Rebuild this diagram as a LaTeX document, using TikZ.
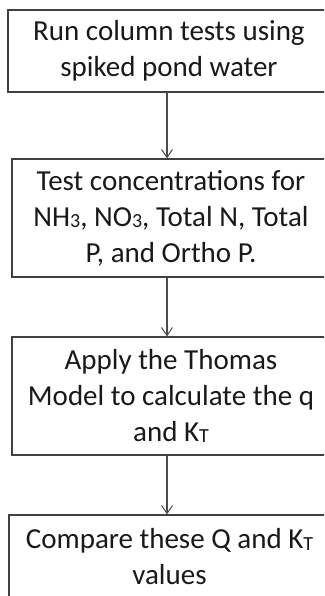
\documentclass[tikz,border=0pt]{standalone}
\usepackage{fontspec}
\setmainfont{Carlito}
\usetikzlibrary{arrows.meta,calc}

\newcommand{\lowsub}[1]{\raisebox{-1.5pt}{\fontsize{20}{20}\selectfont #1}}

\tikzset{
  stepbox/.style={draw=black!75,line width=1.3pt,rectangle,align=center,
    text=black!90,font=\fontsize{29}{36}\selectfont,inner sep=0pt},
  flow/.style={draw=black!70,line width=1.1pt,-{Straight Barb[length=8pt,width=11pt,line width=1pt]}}
}

\begin{document}
\begin{tikzpicture}[x=1pt,y=-1pt]
  \useasboundingbox (0,0) rectangle (324,596);
  \clip (0,0) rectangle (324,596);
  % the four steps
  \node[stepbox,minimum width=322pt,minimum height=82pt] (run) at (169,51)
    {Run column tests using\\spiked pond water};
  \node[stepbox,minimum width=318pt,minimum height=118pt] (conc) at (171,218)
    {Test concentrations for\\NH\lowsub{3}, NO\lowsub{3}, Total N, Total\\P, and Ortho P.};
  \node[stepbox,minimum width=318pt,minimum height=118pt] (thomas) at (171,396)
    {Apply the Thomas\\Model to calculate the q\\and K\lowsub{T}};
  \node[stepbox,minimum width=321pt,minimum height=84pt] (compare) at (169.5,557)
    {Compare these Q and K\lowsub{T}\\values};
  % arrows down the axis
  \coordinate (axis) at (167,0);
  \draw[flow] (run.south -| axis) -- (conc.north -| axis);
  \draw[flow] (conc.south -| axis) -- (thomas.north -| axis);
  \draw[flow] (thomas.south -| axis) -- (compare.north -| axis);
\end{tikzpicture}
\end{document}
